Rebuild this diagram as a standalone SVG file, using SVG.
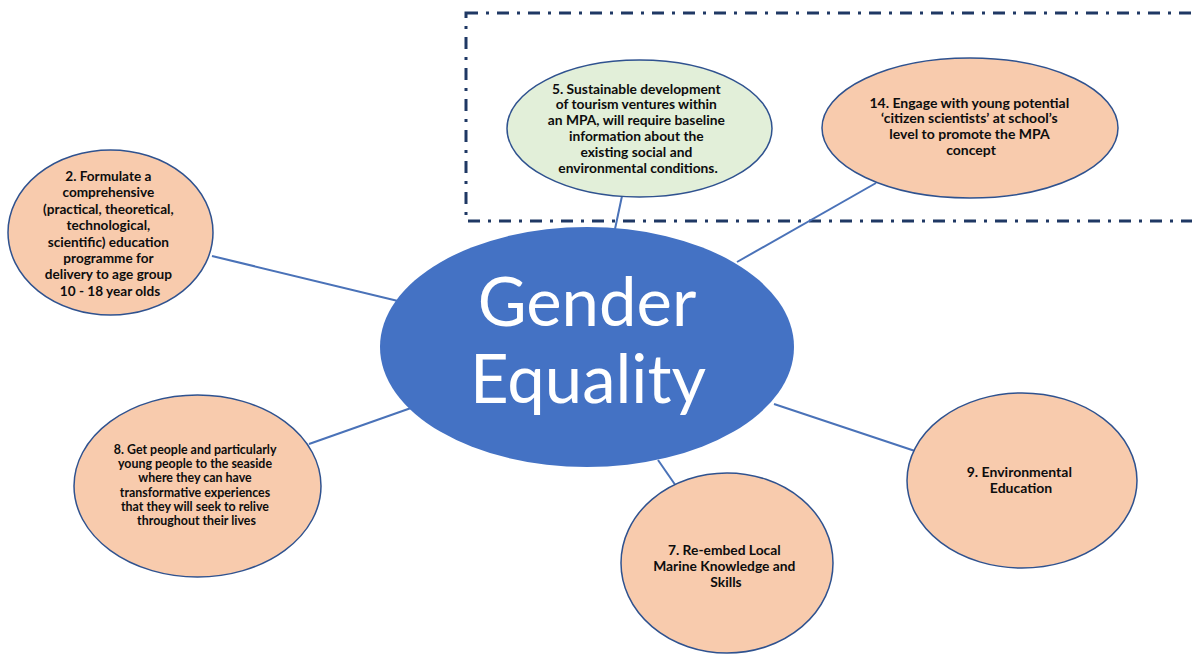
<svg xmlns="http://www.w3.org/2000/svg" width="1192" height="657" viewBox="0 0 1192 657">
<style>
.bg{fill:#ffffff}
.box{fill:none;stroke:#1f3864;stroke-width:3;stroke-dasharray:12 8 3 8}
.conn line{stroke:#4a72b8;stroke-width:2}
.peach{fill:#f8cbad;stroke:#2f528f;stroke-width:1.5}
.green{fill:#e2efd9;stroke:#2f528f;stroke-width:1.5}
.hub{fill:#4472c4;stroke:none}
.t{font-family:Lato,"Open Sans","Liberation Sans",sans-serif;font-weight:bold;fill:#0d0d0d;text-anchor:middle}
.ht{font-family:Lato,"Open Sans","Liberation Sans",sans-serif;font-size:67px;fill:#ffffff;text-anchor:middle}
</style>
<rect class="bg" x="0" y="0" width="1192" height="657"/>
<rect class="box" x="466" y="13" width="740" height="208"/>
<g id="connectors" class="conn">
<line x1="212" y1="256" x2="398" y2="301"/>
<line x1="622" y1="196" x2="615" y2="229"/>
<line x1="876" y1="183" x2="737" y2="262"/>
<line x1="309" y1="444" x2="411" y2="408"/>
<line x1="658" y1="460" x2="676" y2="486"/>
<line x1="774" y1="404" x2="918" y2="452"/>
</g>
<g id="hub">
<ellipse class="hub" cx="587" cy="347" rx="207" ry="120"/>
<text class="ht" x="587" y="326">Gender</text>
<text class="ht" x="588" y="403">Equality</text>
</g>
<g id="node2">
<ellipse class="peach" cx="110.5" cy="232.5" rx="102.5" ry="82.5"/>
<text class="t" font-size="13.6">
<tspan x="110" y="181">2. Formulate a</tspan>
<tspan x="110" y="197.4">comprehensive</tspan>
<tspan x="110" y="213.8">(practical, theoretical,</tspan>
<tspan x="110" y="230.2">technological,</tspan>
<tspan x="110" y="246.6">scientific) education</tspan>
<tspan x="110" y="263">programme for</tspan>
<tspan x="110" y="279.4">delivery to age group</tspan>
<tspan x="110" y="295.8">10 - 18 year olds</tspan>
</text>
</g>
<g id="node5">
<ellipse class="green" cx="639.5" cy="128.5" rx="132.5" ry="68.5"/>
<text class="t" font-size="13.8">
<tspan x="638" y="93.5">5. Sustainable development</tspan>
<tspan x="638" y="109.3">of tourism ventures within</tspan>
<tspan x="638" y="125.1">an MPA, will require baseline</tspan>
<tspan x="638" y="140.9">information about the</tspan>
<tspan x="638" y="156.7">existing social and</tspan>
<tspan x="638" y="172.5">environmental conditions.</tspan>
</text>
</g>
<g id="node14">
<ellipse class="peach" cx="970" cy="128" rx="148" ry="70"/>
<text class="t" font-size="14">
<tspan x="971" y="107.5">14. Engage with young potential</tspan>
<tspan x="971" y="123.2">‘citizen scientists’ at school’s</tspan>
<tspan x="971" y="138.9">level to promote the MPA</tspan>
<tspan x="971" y="154.6">concept</tspan>
</text>
</g>
<g id="node8">
<ellipse class="peach" cx="197.5" cy="486" rx="123.5" ry="91"/>
<text class="t" font-size="12.4">
<tspan x="196.5" y="454">8. Get people and particularly</tspan>
<tspan x="196.5" y="468.2">young people to the seaside</tspan>
<tspan x="196.5" y="482.4">where they can have</tspan>
<tspan x="196.5" y="496.6">transformative experiences</tspan>
<tspan x="196.5" y="510.8">that they will seek to relive</tspan>
<tspan x="196.5" y="525">throughout their lives</tspan>
</text>
</g>
<g id="node7">
<ellipse class="peach" cx="727" cy="563" rx="106" ry="90"/>
<text class="t" font-size="13.8">
<tspan x="726" y="554.5">7. Re-embed Local</tspan>
<tspan x="726" y="570.5">Marine Knowledge and</tspan>
<tspan x="726" y="586.5">Skills</tspan>
</text>
</g>
<g id="node9">
<ellipse class="peach" cx="1022" cy="480.5" rx="115" ry="87.5"/>
<text class="t" font-size="14">
<tspan x="1021" y="476.5">9. Environmental</tspan>
<tspan x="1021" y="492.5">Education</tspan>
</text>
</g>
</svg>
